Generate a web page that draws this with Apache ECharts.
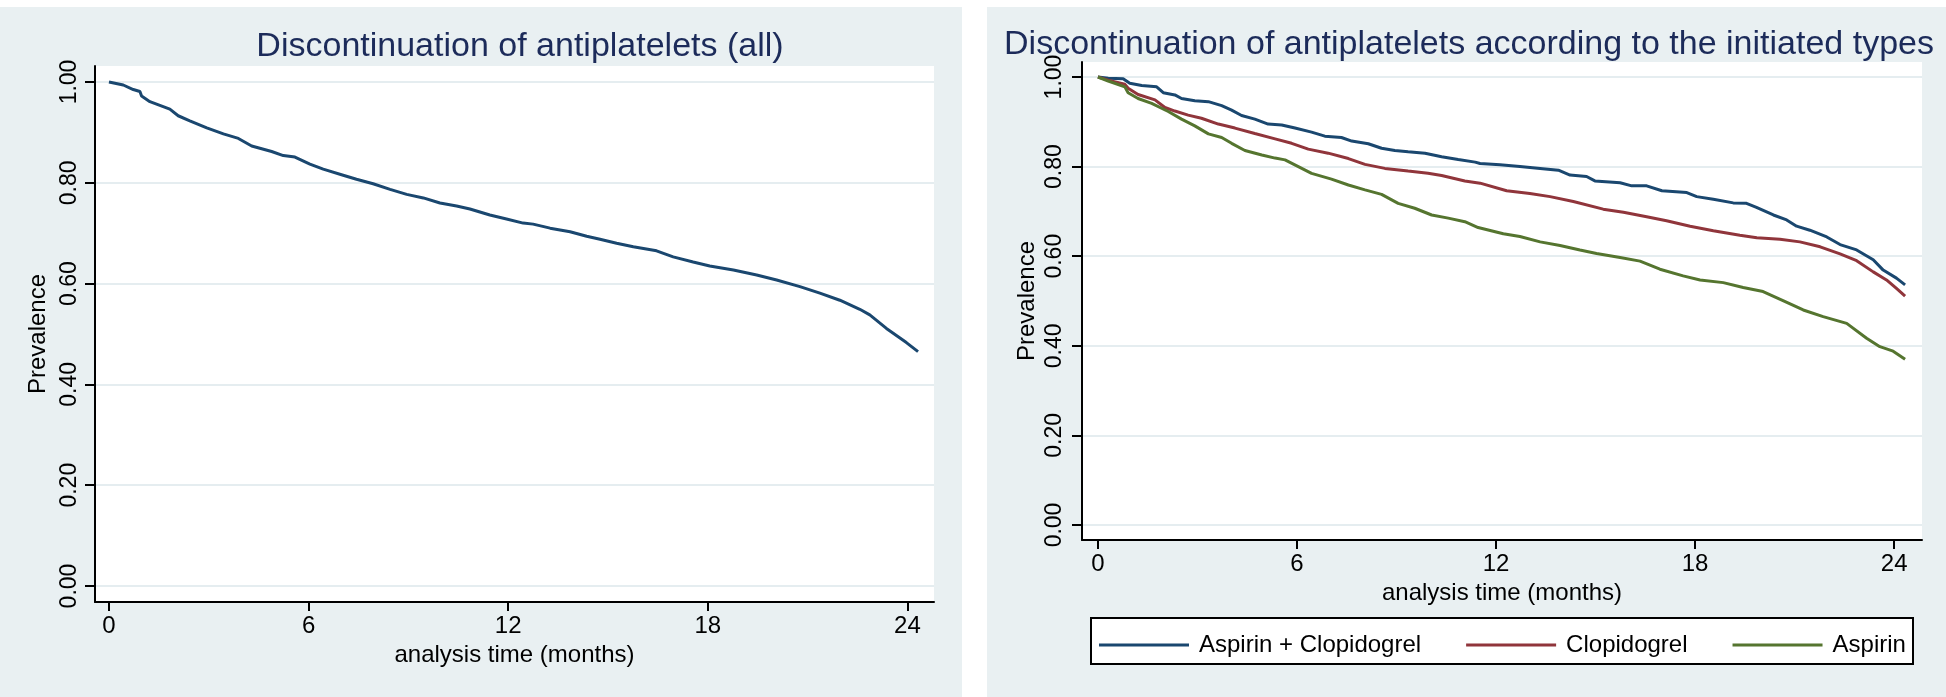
<!DOCTYPE html>
<html>
<head>
<meta charset="utf-8">
<script src="https://cdn.jsdelivr.net/npm/echarts@6/dist/echarts.min.js"></script>
<style>
html,body{margin:0;padding:0;background:#ffffff;}
#c{width:1946px;height:697px;}
</style>
</head>
<body>
<div id="c"></div>
<script>
// ---- tick labels ----
const xTicks = [0, 6, 12, 18, 24];
const yTicks = [0, 0.2, 0.4, 0.6, 0.8, 1.0];

// ---- titles / names ----
const titleLeft = 'Discontinuation of antiplatelets (all)';
const titleRight = 'Discontinuation of antiplatelets according to the initiated types';
const xName = 'analysis time (months)';
const yName = 'Prevalence';
const seriesNames = ['Aspirin + Clopidogrel', 'Clopidogrel', 'Aspirin'];

// ---- left panel: all antiplatelets ----
const allT = [0, 0.43, 0.73, 0.93, 0.98, 1.23, 1.83, 2.08, 2.43, 2.94, 3.44, 3.89, 4.29, 4.89, 5.24, 5.59, 6.04, 6.44, 7.04, 7.44, 7.94, 8.45, 8.95, 9.45, 9.95, 10.45, 10.85, 11.45, 11.95, 12.45, 12.75, 13.26, 13.86, 14.36, 14.76, 15.26, 15.76, 16.46, 16.96, 17.56, 18.06, 18.77, 19.47, 20.07, 20.77, 21.37, 21.97, 22.57, 22.87, 23.37, 23.97, 24.32];
const allV = [1.0, 0.994, 0.985, 0.981, 0.972, 0.961, 0.946, 0.933, 0.923, 0.909, 0.897, 0.888, 0.873, 0.862, 0.854, 0.851, 0.837, 0.827, 0.815, 0.807, 0.798, 0.787, 0.777, 0.770, 0.760, 0.754, 0.748, 0.736, 0.728, 0.720, 0.718, 0.710, 0.703, 0.694, 0.688, 0.680, 0.673, 0.665, 0.653, 0.643, 0.635, 0.627, 0.617, 0.607, 0.594, 0.581, 0.567, 0.549, 0.538, 0.511, 0.483, 0.465];

// ---- right panel: Aspirin + Clopidogrel ----
const dualT = [0, 0.31, 0.76, 0.96, 1.32, 1.77, 1.97, 2.32, 2.52, 2.92, 3.33, 3.73, 4.03, 4.33, 4.73, 5.13, 5.54, 5.94, 6.44, 6.84, 7.34, 7.65, 8.15, 8.55, 8.95, 9.35, 9.86, 10.36, 10.86, 11.37, 11.52, 12.12, 12.72, 13.33, 13.88, 14.23, 14.73, 14.98, 15.74, 16.09, 16.54, 17.0, 17.75, 18.05, 18.55, 19.15, 19.55, 19.85, 20.36, 20.76, 21.06, 21.46, 21.97, 22.37, 22.87, 23.37, 23.67, 24.07, 24.33];
const dualV = [1.0, 0.997, 0.996, 0.986, 0.981, 0.978, 0.965, 0.960, 0.952, 0.947, 0.945, 0.936, 0.926, 0.914, 0.906, 0.895, 0.893, 0.886, 0.877, 0.868, 0.865, 0.857, 0.851, 0.841, 0.836, 0.833, 0.830, 0.822, 0.816, 0.810, 0.807, 0.804, 0.800, 0.796, 0.792, 0.781, 0.778, 0.768, 0.764, 0.757, 0.757, 0.746, 0.742, 0.733, 0.727, 0.719, 0.718, 0.709, 0.692, 0.681, 0.667, 0.658, 0.643, 0.626, 0.614, 0.592, 0.569, 0.551, 0.536];

// ---- right panel: Clopidogrel ----
const clopT = [0, 0.31, 0.81, 0.91, 1.21, 1.72, 2.02, 2.32, 2.72, 3.12, 3.63, 4.13, 4.73, 5.34, 5.84, 6.34, 6.94, 7.55, 8.05, 8.65, 9.35, 9.95, 10.36, 11.06, 11.52, 12.32, 13.02, 13.63, 14.33, 15.23, 15.84, 16.54, 17.14, 17.85, 18.55, 19.35, 19.86, 20.56, 21.16, 21.77, 22.37, 22.87, 23.37, 23.77, 24.07, 24.33];
const clopV = [1.0, 0.993, 0.984, 0.975, 0.961, 0.949, 0.932, 0.924, 0.915, 0.908, 0.895, 0.886, 0.874, 0.862, 0.852, 0.839, 0.830, 0.818, 0.805, 0.796, 0.790, 0.785, 0.780, 0.768, 0.763, 0.746, 0.740, 0.733, 0.722, 0.705, 0.698, 0.688, 0.679, 0.667, 0.657, 0.647, 0.641, 0.638, 0.632, 0.621, 0.605, 0.590, 0.565, 0.547, 0.528, 0.511];

// ---- right panel: Aspirin ----
const aspT = [0, 0.31, 0.81, 0.91, 1.21, 1.62, 2.12, 2.52, 2.92, 3.33, 3.73, 4.03, 4.43, 4.94, 5.34, 5.64, 6.04, 6.44, 7.04, 7.55, 8.05, 8.55, 9.05, 9.55, 10.06, 10.56, 11.06, 11.46, 12.22, 12.72, 13.33, 13.93, 14.53, 15.03, 15.74, 16.34, 16.94, 17.64, 18.15, 18.85, 19.45, 20.05, 20.65, 21.26, 21.86, 22.57, 23.17, 23.57, 23.97, 24.33];
const aspV = [1.0, 0.991, 0.978, 0.965, 0.952, 0.941, 0.923, 0.906, 0.891, 0.873, 0.865, 0.852, 0.836, 0.826, 0.819, 0.815, 0.800, 0.785, 0.772, 0.759, 0.748, 0.738, 0.718, 0.707, 0.692, 0.685, 0.677, 0.664, 0.650, 0.644, 0.632, 0.624, 0.614, 0.606, 0.597, 0.589, 0.571, 0.556, 0.547, 0.541, 0.530, 0.521, 0.501, 0.480, 0.465, 0.450, 0.417, 0.398, 0.388, 0.370];

const zip = (a, b) => a.map((t, i) => [t, b[i]]);

const FONT = 'Liberation Sans, Arial, Helvetica, sans-serif';
const BG = '#e9f0f2';
const GRIDC = '#dde7eb';
const NAVY = '#1a476f', MAROON = '#90353b', GREEN = '#55752f';

function xAxisCfg(idx, min, max, gap) {
  return {
    gridIndex: idx, type: 'value', min: min, max: max,
    axisLine: { show: true, onZero: false, lineStyle: { color: '#000', width: 2 } },
    axisTick: { show: true, length: 9, customValues: xTicks, lineStyle: { color: '#000', width: 2 } },
    axisLabel: { customValues: xTicks, fontSize: 24, color: '#000', fontFamily: FONT, margin: 12 },
    splitLine: { show: false },
    name: xName, nameLocation: 'middle', nameGap: gap,
    nameTextStyle: { fontSize: 24, color: '#000', fontFamily: FONT }
  };
}
function yAxisCfg(idx, min, max, gap, margin) {
  return {
    gridIndex: idx, type: 'value', min: min, max: max,
    axisLine: { show: true, onZero: false, lineStyle: { color: '#000', width: 2 } },
    axisTick: { show: true, length: 10, customValues: yTicks, lineStyle: { color: '#000', width: 2 } },
    axisLabel: { customValues: yTicks, rotate: 90, fontSize: 23, color: '#000', fontFamily: FONT, margin: margin,
      formatter: v => Number(v).toFixed(2) },
    splitLine: { show: true, lineStyle: { color: GRIDC, width: 1.5 } },
    name: yName, nameLocation: 'middle', nameGap: gap, nameRotate: 90,
    nameTextStyle: { fontSize: 24, color: '#000', fontFamily: FONT }
  };
}

const chart = echarts.init(document.getElementById('c'), null, { renderer: 'canvas' });
chart.setOption({
  animation: false,
  backgroundColor: '#ffffff',
  graphic: [
    { type: 'rect', z: -10, shape: { x: 0, y: 7, width: 962, height: 690 }, style: { fill: BG } },
    { type: 'rect', z: -10, shape: { x: 987, y: 7, width: 959, height: 690 }, style: { fill: BG } },
    { type: 'rect', z: -1, shape: { x: 1091, y: 618, width: 822, height: 46 }, style: { fill: '#ffffff', stroke: '#000', lineWidth: 2 } }
  ],
  title: [
    { text: titleLeft, left: 515, top: 25, textAlign: 'center',
      textStyle: { fontSize: 34, fontWeight: 'normal', color: '#1c2b5a', fontFamily: FONT } },
    { text: titleRight, left: 1464, top: 23, textAlign: 'center',
      textStyle: { fontSize: 34, fontWeight: 'normal', color: '#1c2b5a', fontFamily: FONT } }
  ],
  grid: [
    { left: 95, top: 66, width: 839, height: 536, show: true, backgroundColor: '#ffffff', borderWidth: 0 },
    { left: 1082, top: 62, width: 840, height: 478, show: true, backgroundColor: '#ffffff', borderWidth: 0 }
  ],
  xAxis: [ xAxisCfg(0, -0.42, 24.8, 30), xAxisCfg(1, -0.48, 24.84, 32) ],
  yAxis: [ yAxisCfg(0, -0.0317, 1.0317, 45, 14), yAxisCfg(1, -0.0335, 1.0335, 43, 16) ],
  legend: {
    data: seriesNames, left: 1094, top: 628, itemWidth: 90, itemHeight: 26, itemGap: 45,
    icon: 'path://M0,11.5 L90,11.5 L90,14.5 L0,14.5 Z',
    textStyle: { fontSize: 24, color: '#000', fontFamily: FONT, padding: [0, 0, 0, 5] }
  },
  series: [
    { name: 'All', type: 'line', xAxisIndex: 0, yAxisIndex: 0, data: zip(allT, allV), symbol: 'none',
      lineStyle: { color: NAVY, width: 3 }, itemStyle: { color: NAVY } },
    { name: seriesNames[0], type: 'line', xAxisIndex: 1, yAxisIndex: 1, data: zip(dualT, dualV), symbol: 'none',
      lineStyle: { color: NAVY, width: 3 }, itemStyle: { color: NAVY } },
    { name: seriesNames[1], type: 'line', xAxisIndex: 1, yAxisIndex: 1, data: zip(clopT, clopV), symbol: 'none',
      lineStyle: { color: MAROON, width: 3 }, itemStyle: { color: MAROON } },
    { name: seriesNames[2], type: 'line', xAxisIndex: 1, yAxisIndex: 1, data: zip(aspT, aspV), symbol: 'none',
      lineStyle: { color: GREEN, width: 3 }, itemStyle: { color: GREEN } }
  ]
});
</script>
</body>
</html>
